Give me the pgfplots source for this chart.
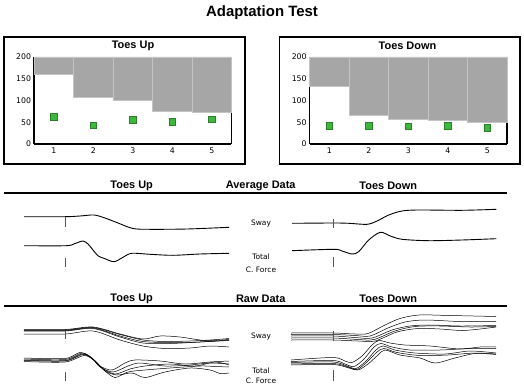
\documentclass[border=0pt]{standalone}
\usepackage{pgfplots}
\pgfplotsset{compat=1.18}
\usepackage{pgfplotstable}
\usepackage{fontspec}
\setmainfont{Liberation Sans}
\newfontfamily\dejavu{DejaVu Sans}
\definecolor{barfill}{HTML}{A6A6A6}
\definecolor{barline}{HTML}{C4C4C4}
\definecolor{sqfill}{HTML}{3DB83D}
\definecolor{sqline}{HTML}{2B7F2B}
\definecolor{stim}{HTML}{555555}

\pgfplotstableread{
x v s
1 160 63
2 108 43
3 100 55
4 75 51
5 74 57
}\toesup
\pgfplotstableread{
x v s
1 133 42
2 66 42
3 57.5 40.5
4 53.5 42
5 49 37.5
}\toesdown

\tikzset{
 ttl/.style={font=\bfseries\fontsize{11}{12}\selectfont},
 sml/.style={font=\dejavu\fontsize{7.5}{8}\selectfont}
}
\pgfplotsset{
 panel/.style={scale only axis, width=197.5bp, height=87bp, anchor=south west,
   xmin=0.5, xmax=5.5, ymin=0, ymax=200, ybar stacked, bar width=1,
   axis x line*=bottom, axis y line*=box, axis line style={line width=1.6bp},
   xtick={1,...,5}, ytick={0,50,...,200}, major tick length=0pt,
   ticklabel style={font=\dejavu\fontsize{7.8}{8}\selectfont},
   xticklabel style={yshift=-0.5bp},
   yticklabel style={xshift=0.5bp},
   /pgf/number format/assume math mode=true,
   clip=false},
 avg/.style={black, line width=0.9bp, smooth, tension=0.5, mark=none},
 raw/.style={black, line width=0.5bp, smooth, tension=0.5, mark=none},
 stimm/.style={stim, line width=0.8bp, mark=none}
}

\begin{document}
\begin{tikzpicture}
\path[use as bounding box] (0,0) rectangle (524bp,389bp);

% full-image pixel axis for frames, texts and traces
\begin{axis}[at={(0,0)}, anchor=south west, scale only axis, width=524bp, height=389bp,
  xmin=0, xmax=524, ymin=0, ymax=389, y dir=reverse, hide axis, clip=false]
\node[font=\bfseries\fontsize{15}{16}\selectfont] at (axis cs:262,13) {Adaptation Test};
\draw[line width=1.6bp] (axis cs:4,37) rectangle (axis cs:245,164);
\draw[line width=1.6bp] (axis cs:279.5,37) rectangle (axis cs:520,164);
\node[ttl] at (axis cs:133,45.5) {Toes Up};
\node[ttl] at (axis cs:407.5,45.5) {Toes Down};

% Average data
\draw[line width=1.8bp] (axis cs:4,192.7) -- (axis cs:507,192.7);
\node[ttl] at (axis cs:131.7,185.5) {Toes Up};
\node[ttl] at (axis cs:260.7,185.5) {Average Data};
\node[ttl] at (axis cs:388.3,185.5) {Toes Down};
\node[sml] at (axis cs:261,224) {Sway};
\node[sml] at (axis cs:261,257) {Total};
\node[sml] at (axis cs:261,270) {C. Force};

\addplot[avg] coordinates {(24,216.7)(65,216.7)(80,216)(94,215)(105,218)(118,223)(133,228.5)(150,229.3)(187,229)(229,227.3)};
\addplot[avg] coordinates {(24,245.7)(66,245.7)(75,243.5)(83,241)(88,244)(93,250)(98.3,256)(104,258.3)(114,261.7)(123,257.3)(131.7,253.3)(150,254.3)(173,255.3)(200,254)(229,253.3)};
\addplot[avg] coordinates {(292,223.3)(333.7,223)(348.7,223.3)(367,224.3)(377,221)(388.7,215)(402,211)(418.7,210)(462,210.3)(496.3,209.3)};
\addplot[avg] coordinates {(292,250.7)(333.7,249.3)(342,251)(352,254)(358.7,251.7)(368.7,240)(380.3,232.3)(390.3,236)(402,239.3)(428.7,240.7)(462,240)(496.3,238.7)};
\addplot[stimm] coordinates {(65.3,216.7)(65.3,226.7)};
\addplot[stimm] coordinates {(65.3,257.7)(65.3,266.7)};
\addplot[stimm] coordinates {(333,219)(333,227.7)};
\addplot[stimm] coordinates {(333,257.3)(333,266.7)};

% Raw data
\draw[line width=1.8bp] (axis cs:4,305.7) -- (axis cs:507,305.7);
\node[ttl] at (axis cs:131.7,298.5) {Toes Up};
\node[ttl] at (axis cs:260.7,298.5) {Raw Data};
\node[ttl] at (axis cs:388.3,298.5) {Toes Down};
\node[sml] at (axis cs:261,336.7) {Sway};
\node[sml] at (axis cs:261,371) {Total};
\node[sml] at (axis cs:261,381) {C. Force};

% raw left sway
\addplot[raw] coordinates {(24,329.5)(65,329.5)(93,327)(120,334)(143,339)(160,336)(180,337)(205,340.5)(229,339.5)};
\addplot[raw] coordinates {(24,330)(65,330)(93,327.5)(120,334.5)(143,340)(165,341.5)(190,341)(210,340)(229,338.5)};
\addplot[raw] coordinates {(24,330.5)(65,330.5)(93,328)(120,336)(143,341.5)(170,342.5)(200,342)(229,340)};
\addplot[raw] coordinates {(24,331)(65,331)(93,328.5)(120,337)(143,343)(170,343.5)(200,342)(229,340.5)};
\addplot[raw] coordinates {(24,334)(65,334)(93,331)(120,340)(143,346)(165,348.5)(190,348)(210,346)(229,347)};
% raw left force
\addplot[raw] coordinates {(24,358)(65,358.5)(80,352.5)(90,357)(100,366)(112,370)(125,363)(135,360)(160,361)(185,364)(210,362)(229,361)};
\addplot[raw] coordinates {(24,359)(65,359.5)(82,353)(92,358)(100,367)(113,372)(128,366)(140,363)(165,366)(190,365)(210,363)(229,364)};
\addplot[raw] coordinates {(24,360)(65,360.5)(82,354)(93,359)(102,368)(115,374)(130,369)(145,366)(170,364)(195,366)(215,362)(229,365)};
\addplot[raw] coordinates {(24,360.5)(65,361)(83,354.5)(94,360)(104,370)(115,377.5)(128,372)(145,370)(170,368)(200,366)(215,366.5)(229,367)};
\addplot[raw] coordinates {(24,361.5)(65,362)(84,355.5)(95,361)(105,371)(117,375)(132,373)(145,377.5)(165,372)(190,368)(210,370)(220,373.5)(229,373)};
% raw right sway
\addplot[raw] coordinates {(291,333)(333,333)(355,334)(368,333.5)(385,325)(400,318.5)(419,315)(450,315.5)(496,316.5)};
\addplot[raw] coordinates {(291,334.5)(333,334.5)(355,335.5)(370,336)(388,328)(405,322)(425,320)(460,321.5)(496,321.5)};
\addplot[raw] coordinates {(291,336)(333,336)(355,337.5)(372,338)(392,330)(410,326)(430,325)(460,326)(496,325.5)};
\addplot[raw] coordinates {(291,338)(333,338)(358,339.5)(374,339.5)(395,331)(415,326.5)(440,326)(470,327)(496,326.5)};
\addplot[raw] coordinates {(291,340)(333,340)(358,341)(375,341)(397,332)(418,328.5)(440,329)(462,330.5)(480,329)(496,327)};
% raw right force
\addplot[raw] coordinates {(291,360)(333,357.5)(345,361)(352,362.5)(362,356)(372,345)(379,340.5)(390,343)(405,345)(430,346)(460,349)(480,347)(496,347)};
\addplot[raw] coordinates {(291,361.5)(333,360.5)(345,364)(354,366.5)(364,359)(374,347)(381,343.5)(392,347)(410,350)(440,350)(470,348.5)(496,348.5)};
\addplot[raw] coordinates {(291,362.5)(333,362)(347,366)(356,368.5)(366,361)(376,350)(383,346)(395,350)(415,353)(445,354)(470,351)(496,353)};
\addplot[raw] coordinates {(291,364)(333,363.5)(348,367)(357,369.5)(367,362)(377,352)(384,348.5)(397,352.5)(420,355.5)(448,355)(475,353)(496,354)};
\addplot[raw] coordinates {(291,365)(333,364.5)(349,368)(358,370)(368,364)(378,355)(385,350)(400,355)(420,358)(435,363)(455,358)(475,353.5)(496,354.5)};
\addplot[stimm] coordinates {(65.3,330.7)(65.3,339.3)};
\addplot[stimm] coordinates {(65.3,371.7)(65.3,380.7)};
\addplot[stimm] coordinates {(333,330.7)(333,340.7)};
\addplot[stimm] coordinates {(333,370)(333,380.7)};
\end{axis}

% Toes Up panel
\begin{axis}[panel, at={(34bp,245bp)}]
\addplot[draw=none, fill=none] table[x=x, y=v] {\toesup};
\addplot[fill=barfill, draw=barline, line width=0.6bp] table[x=x, y expr=200-\thisrow{v}] {\toesup};
\addplot[stack plots=false, only marks, mark=square*, mark size=3.4bp,
  mark options={fill=sqfill, draw=sqline, line width=0.6bp}] table[x=x, y=s] {\toesup};
\end{axis}

% Toes Down panel
\begin{axis}[panel, at={(309.6bp,245bp)}]
\addplot[draw=none, fill=none] table[x=x, y=v] {\toesdown};
\addplot[fill=barfill, draw=barline, line width=0.6bp] table[x=x, y expr=200-\thisrow{v}] {\toesdown};
\addplot[stack plots=false, only marks, mark=square*, mark size=3.4bp,
  mark options={fill=sqfill, draw=sqline, line width=0.6bp}] table[x=x, y=s] {\toesdown};
\end{axis}
\end{tikzpicture}
\end{document}
